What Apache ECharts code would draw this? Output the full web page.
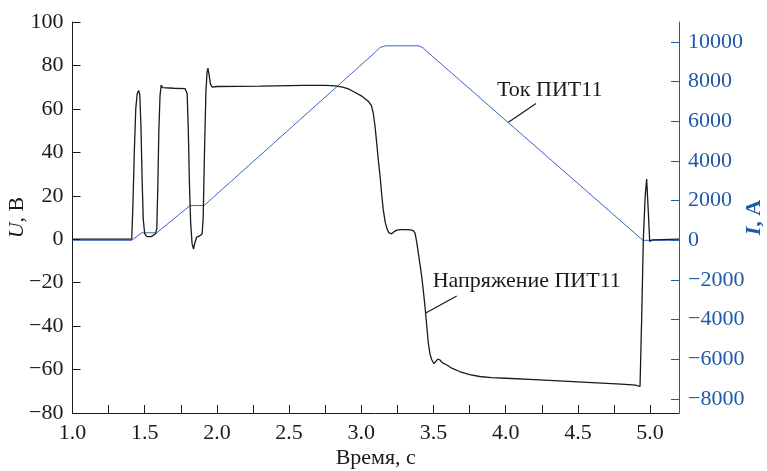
<!DOCTYPE html>
<html>
<head>
<meta charset="utf-8">
<script src="https://cdn.jsdelivr.net/npm/echarts@6/dist/echarts.min.js"></script>
<style>
html,body{margin:0;padding:0;background:#fff;}
#chart{width:767px;height:471px;}
</style>
</head>
<body>
<div id="chart"></div>
<script>
// ---- data ----
const xTicks = [1.0,1.25,1.5,1.75,2.0,2.25,2.5,2.75,3.0,3.25,3.5,3.75,4.0,4.25,4.5,4.75,5.0];
const xLabels = [1.0,1.5,2.0,2.5,3.0,3.5,4.0,4.5,5.0];
const uTicks = [-80,-60,-40,-20,0,20,40,60,80,100];
const iTicks = [-8000,-6000,-4000,-2000,0,2000,4000,6000,8000,10000];

const voltT = [1.00,1.41,1.418,1.428,1.438,1.448,1.458,1.466,1.474,1.482,1.49,1.50,1.515,1.545,1.575,
  1.584,1.591,1.598,1.606,1.614,1.624,1.70,1.78,1.794,1.802,1.81,1.818,1.828,1.838,1.848,1.86,1.88,1.898,
  1.905,1.914,1.924,1.932,1.938,1.945,1.955,1.968,2.0,2.3,2.6,2.75,2.82,2.87,2.91,2.945,3.0,3.05,3.07,
  3.083,3.095,3.107,3.12,3.13,3.142,3.152,3.165,3.176,3.19,3.21,3.228,3.245,3.27,3.30,3.34,3.36,3.372,
  3.383,3.395,3.405,3.418,3.43,3.441,3.452,3.464,3.476,3.488,3.503,3.515,3.53,3.545,3.56,3.59,3.63,3.68,
  3.75,3.82,3.9,4.0,4.2,4.4,4.6,4.8,4.9,4.93,4.942,4.953,4.966,4.976,4.988,4.997,5.005,5.015,5.2];
const voltU = [0,0,15,40,60,67,68.5,66.5,52,28,9,2.5,1.2,1.2,2.5,
  5,25,50,66,71,69.8,69.5,69.3,67,50,25,8,-2,-4.5,-1.5,1,1.5,2.5,
  10,40,68,77,78.8,76,71.5,70,70.3,70.5,70.8,70.8,70.6,70,69.2,68,66,63.4,61.5,
  58,52,44,35,29,20,13.6,8,5.2,3,2.5,3.5,4.2,4.4,4.4,4.3,4,2.8,
  -1,-6.4,-11,-17,-24,-31,-39,-47.8,-53,-55.5,-57.3,-56.5,-55.2,-55.6,-56.8,-57.8,-59.5,-60.9,
  -62.3,-63.2,-63.7,-64,-64.6,-65.3,-66,-66.7,-67.2,-67.8,-35,0,20,27.7,12,-1,-1.8,-0.3,0];

const curT = [1.0,1.41,1.479,1.583,1.814,1.911,3.10,3.13,3.17,3.40,3.43,3.46,4.95,5.2];
const curI = [0,0,380,380,1750,1750,9500,9720,9800,9800,9680,9480,0,0];

const xName = 'Время, с';
const uName = '{i|U}, В';
const iName = '{i|I}, А';
const curLabel = 'Ток ПИТ11';
const voltLabel = 'Напряжение ПИТ11';

// ---- chart ----
const FONT = 'Liberation Serif';
const BLUE = '#1f5aa8';
const LINEBLUE = '#3a62c8';
const BLACK = '#1a1a1a';
const minus = s => String(s).replace('-', '\u2212');

const chart = echarts.init(document.getElementById('chart'), null, {renderer:'canvas'});
const zip = (a,b) => a.map((v,i)=>[v,b[i]]);

chart.setOption({
  animation:false,
  grid:{left:72.5, right:88, top:22, bottom:58, containLabel:false, outerBoundsMode:'none'},
  xAxis:{
    type:'value', min:1.0, max:5.2,
    axisLine:{show:true, onZero:false, lineStyle:{color:BLACK, width:1}},
    axisTick:{show:true, inside:true, length:8, customValues:xTicks, lineStyle:{color:BLACK}},
    axisLabel:{customValues:xLabels, formatter:v=>Number(v).toFixed(1), fontFamily:FONT, fontSize:22, color:BLACK, margin:9},
    splitLine:{show:false},
    name:xName, nameLocation:'middle', nameGap:34, nameMoveOverlap:false,
    nameTextStyle:{fontFamily:FONT, fontSize:22, color:BLACK}
  },
  yAxis:[{
    type:'value', min:-80, max:100, position:'left',
    axisLine:{show:true, onZero:false, lineStyle:{color:BLACK, width:1}},
    axisTick:{show:true, inside:true, length:8, customValues:uTicks, lineStyle:{color:BLACK}},
    axisLabel:{customValues:uTicks, formatter:v=>minus(v), fontFamily:FONT, fontSize:22, color:BLACK, margin:9},
    splitLine:{show:false},
    name:uName, nameLocation:'middle', nameGap:44, nameRotate:90, nameMoveOverlap:false,
    nameTextStyle:{fontFamily:FONT, fontSize:22, color:BLACK,
      rich:{i:{fontFamily:FONT, fontSize:22, fontStyle:'italic', color:BLACK}}}
  },{
    type:'value', min:-8700, max:11000, position:'right',
    axisLine:{show:true, onZero:false, lineStyle:{color:BLUE, width:1}},
    axisTick:{show:true, inside:true, length:8, customValues:iTicks, lineStyle:{color:BLUE}},
    axisLabel:{customValues:iTicks, formatter:v=>minus(v), fontFamily:FONT, fontSize:22, color:BLUE, margin:9},
    splitLine:{show:false},
    name:iName, nameLocation:'middle', nameGap:64, nameRotate:90, nameMoveOverlap:false,
    nameTextStyle:{fontFamily:FONT, fontSize:22, color:BLUE, fontWeight:'bold',
      rich:{i:{fontFamily:FONT, fontSize:22, fontStyle:'italic', fontWeight:'bold', color:BLUE}}}
  }],
  series:[{
    type:'line', yAxisIndex:1, data:zip(curT,curI), showSymbol:false, symbol:'none',
    lineStyle:{color:LINEBLUE, width:1}, z:2
  },{
    type:'line', yAxisIndex:0, data:zip(voltT,voltU), showSymbol:false, symbol:'none',
    lineStyle:{color:BLACK, width:1.3}, z:3
  }]
});

// annotations anchored on the curves
const pc = chart.convertToPixel({xAxisIndex:0, yAxisIndex:1}, [4.016, 9480 - (4.016-3.46)*(9480/(4.95-3.46))]);
const pv = chart.convertToPixel({xAxisIndex:0, yAxisIndex:0}, [3.446, -34]);
chart.setOption({
  graphic:[
    {type:'line', shape:{x1:pc[0], y1:pc[1], x2:pc[0]+28, y2:pc[1]-19}, style:{stroke:BLACK, lineWidth:1.2}},
    {type:'text', x:pc[0]-11, y:pc[1]-32, style:{text:curLabel, font:'22px "Liberation Serif"', fill:BLACK, textVerticalAlign:'middle'}},
    {type:'line', shape:{x1:pv[0], y1:pv[1], x2:pv[0]+31, y2:pv[1]-17}, style:{stroke:BLACK, lineWidth:1.2}},
    {type:'text', x:pv[0]+7, y:pv[1]-32, style:{text:voltLabel, font:'22px "Liberation Serif"', fill:BLACK, textVerticalAlign:'middle'}}
  ]
});
</script>
</body>
</html>
